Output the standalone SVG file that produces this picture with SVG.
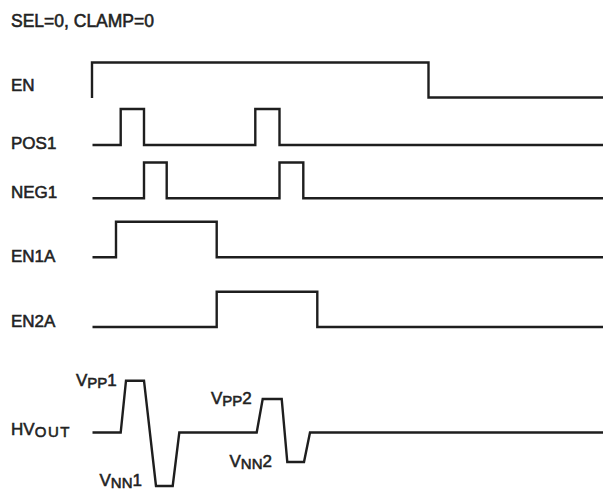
<svg xmlns="http://www.w3.org/2000/svg" width="603" height="491" viewBox="0 0 603 491">
<style>
.lbl{font-family:"Liberation Sans",Arial,sans-serif;font-size:17px;fill:#222;stroke:#222;stroke-width:0.55px}
.sub{font-size:15px}
.w{fill:none;stroke:#1e1e1e;stroke-width:2.4;stroke-linejoin:miter;stroke-linecap:butt}
</style>
<rect width="603" height="491" fill="#fff"/>
<text id="title" class="lbl" x="11" y="27.3" style="font-size:17.5px">SEL=0, CLAMP=0</text>
<g id="sig-EN">
<text class="lbl" x="11" y="91">EN</text>
<path class="w" d="M92,98 V62.5 H428.5 V97.5 H603"/>
</g>
<g id="sig-POS1">
<text class="lbl" x="11" y="149.3">POS1</text>
<path class="w" d="M92.5,145 H120.7 V109 H144 V145 H255.3 V109 H279.5 V145 H603"/>
</g>
<g id="sig-NEG1">
<text class="lbl" x="11" y="198">NEG1</text>
<path class="w" d="M92.5,198.3 H144 V162.5 H166.7 V198.3 H279.5 V162.5 H303.3 V198.3 H603"/>
</g>
<g id="sig-EN1A">
<text class="lbl" x="11" y="262">EN1A</text>
<path class="w" d="M92.5,257.3 H116 V221.7 H216.7 V257.3 H603"/>
</g>
<g id="sig-EN2A">
<text class="lbl" x="11" y="327">EN2A</text>
<path class="w" d="M92.5,327 H216.7 V291.7 H317.3 V327 H603"/>
</g>
<g id="sig-HVOUT">
<text class="lbl" x="11" y="435">HV<tspan class="sub" dy="1.5" style="letter-spacing:1.6px">OUT</tspan></text>
<path class="w" d="M92.5,432.5 H120.7 L126,380.7 H144 L156,486 H172.7 L179.3,432.5 H256.7 L262.7,399 H281.7 L287.3,462 H304 L310,432.5 H603"/>
<text class="lbl" x="76" y="386">V<tspan class="sub" dy="2">PP</tspan><tspan dy="-2">1</tspan></text>
<text class="lbl" x="99.5" y="486">V<tspan class="sub" dy="2">NN</tspan><tspan dy="-2">1</tspan></text>
<text class="lbl" x="211" y="404">V<tspan class="sub" dy="2">PP</tspan><tspan dy="-2">2</tspan></text>
<text class="lbl" x="229.5" y="467">V<tspan class="sub" dy="2">NN</tspan><tspan dy="-2">2</tspan></text>
</g>
</svg>
